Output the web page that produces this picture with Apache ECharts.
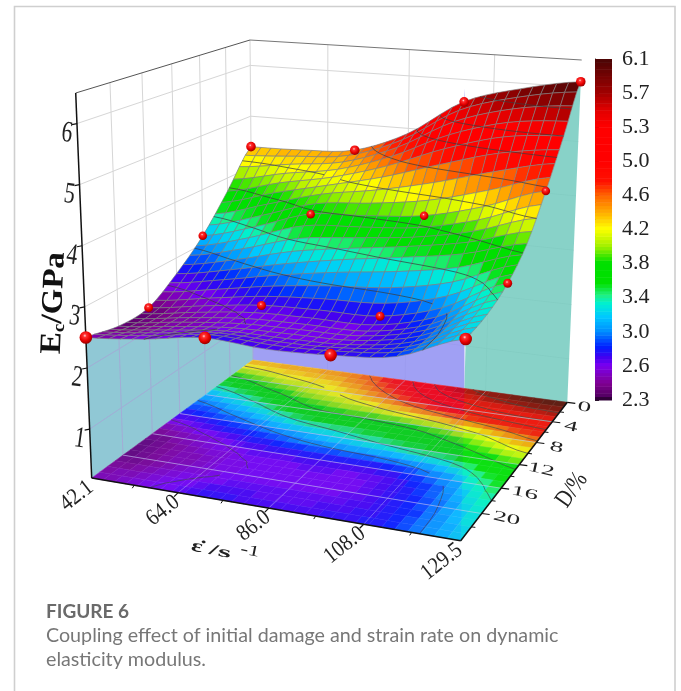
<!DOCTYPE html>
<html><head><meta charset="utf-8">
<style>html,body{margin:0;padding:0;background:#fff}#c{width:681px;height:691px}</style>
<script src="https://cdn.jsdelivr.net/npm/echarts@6/dist/echarts.min.js"></script>
</head><body><div id="c"></div>
<script>
// ---- values ----
const xNodes = [42.1, 56.6, 71, 85.5, 100, 114.75, 129.5];
const dNodes = [0, 4, 8, 12, 16, 20, 24];
const surfaceD0  = [4.40, 4.42, 4.50, 4.90, 5.58, 5.90, 6.10];
const surfaceD4  = [3.75, 4.00, 4.20, 4.50, 4.90, 5.20, 5.30];
const surfaceD8  = [3.15, 3.42, 3.75, 3.82, 3.92, 4.18, 4.55];
const surfaceD12 = [2.72, 2.90, 3.12, 3.30, 3.45, 3.62, 3.90];
const surfaceD16 = [2.40, 2.55, 2.68, 2.72, 2.74, 3.00, 3.52];
const surfaceD20 = [2.38, 2.50, 2.60, 2.62, 2.65, 2.85, 3.32];
const surfaceD24 = [2.50, 2.60, 2.75, 2.70, 2.74, 2.85, 3.25];
const markerX = [42.1,71.5,100.5,129.5, 42.1,71.5,100.5,129.5, 42.1,71.5,100.5,129.5, 42.1,71.5,100.5,129.5];
const markerD = [0,0,0,0, 8,8,8,8, 16,16,16,16, 24,24,24,24];
const markerE = [4.40,4.50,5.58,6.10, 3.15,3.75,3.92,4.55, 2.40,2.68,2.74,3.52, 2.50,2.75,2.74,3.25];
const xTicks = [42.1, 64.0, 86.0, 108.0, 129.5];
const xTickLabels = ['42.1','64.0','86.0','108.0','129.5'];
const xMinorTicks = [53, 75, 97, 118.75];
const dTicks = [0, 4, 8, 12, 16, 20];
const dMinorTicks = [2, 6, 10, 14, 18, 22];
const zTicks = [1, 2, 3, 4, 5, 6];
const colorbarLabels = ['2.3','2.6','3.0','3.4','3.8','4.2','4.6','5.0','5.3','5.7','6.1'];
const colorbarStops = [[0,'#000000'],[0.04,'#2a0030'],[0.1,'#500060'],[0.49,'#800090'],[1.03,'#7a00f0'],[1.27,'#4000f0'],[1.57,'#0020ff'],[2.03,'#0090ff'],[2.45,'#00c8ff'],[2.84,'#00f0d0'],[3.09,'#20f080'],[3.43,'#00e000'],[4.04,'#00e000'],[4.51,'#a0f000'],[5.03,'#ffff00'],[5.49,'#ffb000'],[6.03,'#ff6000'],[6.42,'#ff1000'],[7.03,'#ff0000'],[8.02,'#ff0000'],[8.53,'#e00000'],[9.02,'#a00000'],[10,'#4a0505']];
const X_MIN=42.1, X_MAX=129.5, D_MAX=24, Z_MIN=0.2, Z_MAX=6.5;
const NX=30, ND=24;
// ---- view of the box (screen corners of the 3D frame) ----
const floorQuad=[[253,360],[567.3,402.3],[460.7,540.7],[91.7,478]];
const topQuad=[[250,40],[581.7,60],[471,124],[75.7,93]];
const markerRadiusByRow={0:4.8,8:4.3,16:4.5,24:6.3};
function homography(q){
  const [p0,p1,p2,p3]=q;
  const dx1=p1[0]-p2[0],dx2=p3[0]-p2[0],sx=p0[0]-p1[0]+p2[0]-p3[0];
  const dy1=p1[1]-p2[1],dy2=p3[1]-p2[1],sy=p0[1]-p1[1]+p2[1]-p3[1];
  const det=dx1*dy2-dx2*dy1;
  const g=(sx*dy2-dx2*sy)/det,h=(dx1*sy-sx*dy1)/det;
  const a=p1[0]-p0[0]+g*p1[0],b=p3[0]-p0[0]+h*p3[0],c=p0[0];
  const d=p1[1]-p0[1]+g*p1[1],e=p3[1]-p0[1]+h*p3[1],f=p0[1];
  return (u,v)=>{const w=g*u+h*v+1;return [(a*u+b*v+c)/w,(d*u+e*v+f)/w];};
}
const HF=homography(floorQuad),HT=homography(topQuad);
const U=x=>(x-X_MIN)/(X_MAX-X_MIN), V=d=>d/D_MAX, W=z=>(z-Z_MIN)/(Z_MAX-Z_MIN);
function P(x,d,z){const a=HF(U(x),V(d)),b=HT(U(x),V(d)),w=W(z);return [a[0]+(b[0]-a[0])*w,a[1]+(b[1]-a[1])*w];}
// ---- surface evaluation (smooth spline through the read nodes) ----
const rows=[surfaceD0,surfaceD4,surfaceD8,surfaceD12,surfaceD16,surfaceD20,surfaceD24];
const cr=(a,b,c,d,t)=>0.5*(2*b+(c-a)*t+(2*a-5*b+4*c-d)*t*t+(3*b-a-3*c+d)*t*t*t);
function spl(arr,s){const n=arr.length-1,i=Math.min(n-1,Math.floor(s)),t=s-i;
  return cr(arr[Math.max(0,i-1)],arr[i],arr[i+1],arr[Math.min(n,i+2)],t);}
function E(x,d){const s=U(x)*6,t=V(d)*6;return spl(rows.map(r=>spl(r,s)),t);}
const xs=[],ds=[];
for(let i=0;i<=NX;i++)xs.push(X_MIN+(X_MAX-X_MIN)*i/NX);
for(let j=0;j<=ND;j++)ds.push(D_MAX*j/ND);
const mesh=ds.map(d=>xs.map(x=>E(x,d)));
// ---- colours ----
const hex=h=>[1,3,5].map(k=>parseInt(h.substr(k,2),16));
function colorAtP(p){for(let i=1;i<colorbarStops.length;i++){if(p<=colorbarStops[i][0]){
  const [p0,c0]=colorbarStops[i-1],[p1,c1]=colorbarStops[i],t=(p-p0)/(p1-p0),a=hex(c0),b=hex(c1);
  return `rgb(${a.map((v,k)=>Math.round(v+(b[k]-v)*t)).join(',')})`;}}
  return colorbarStops[colorbarStops.length-1][1];}
const cbValues=colorbarLabels.map(Number);
function eToP(e){if(e<=cbValues[0])return 0;for(let i=1;i<cbValues.length;i++){if(e<=cbValues[i])return i-1+(e-cbValues[i-1])/(cbValues[i]-cbValues[i-1]);}return 10;}
const colorOf=e=>colorAtP(Math.floor(eToP(e)*10)/10+0.05);
// ---- marks ----
const poly=(p,fill,stroke,lw)=>({kind:'poly',p,fill,stroke,lw});
const line=(a,b,stroke,lw)=>({kind:'line',a,b,stroke,lw});
const text=(t,a,o)=>Object.assign({kind:'text',t,a},o);
function contourSegs(zFn,col){
  const out=[];
  cbValues.slice(1,-1).forEach(L=>{
    for(let j=0;j<ND;j++)for(let i=0;i<NX;i++){
      const c=[[i,j],[i+1,j],[i+1,j+1],[i,j+1]];const cross=[];
      for(let k=0;k<4;k++){const [a,b]=[c[k],c[(k+1)%4]];const ea=mesh[a[1]][a[0]],eb=mesh[b[1]][b[0]];
        if((ea-L)*(eb-L)<0){const t=(L-ea)/(eb-ea);
          cross.push(P(xs[a[0]]+(xs[b[0]]-xs[a[0]])*t,ds[a[1]]+(ds[b[1]]-ds[a[1]])*t,zFn(L)));}}
      if(cross.length>=2)out.push(line(cross[0],cross[1],col,0.9));
      if(cross.length===4)out.push(line(cross[2],cross[3],col,0.9));
    }});
  return out;
}
const walls=[];
const wallGrid='#d6d6d6';
walls.push(poly([P(X_MIN,D_MAX,Z_MIN),P(X_MIN,0,Z_MIN),P(X_MIN,0,Z_MAX),P(X_MIN,D_MAX,Z_MAX)],'#fff'));
walls.push(poly([P(X_MIN,0,Z_MIN),P(X_MAX,0,Z_MIN),P(X_MAX,0,Z_MAX),P(X_MIN,0,Z_MAX)],'#fff'));
zTicks.forEach(z=>{walls.push(line(P(X_MIN,D_MAX,z),P(X_MIN,0,z),wallGrid,1));walls.push(line(P(X_MIN,0,z),P(X_MAX,0,z),wallGrid,1));});
dTicks.forEach(d=>walls.push(line(P(X_MIN,d,Z_MIN),P(X_MIN,d,Z_MAX),wallGrid,1)));
xTicks.slice(1,-1).forEach(x=>walls.push(line(P(x,0,Z_MIN),P(x,0,Z_MAX),wallGrid,1)));
walls.push(line(P(X_MIN,D_MAX,Z_MAX),P(X_MIN,0,Z_MAX),'#555',1));
walls.push(line(P(X_MIN,0,Z_MAX),P(X_MAX,0,Z_MAX),'#777',1));
function meet(a,b,c,d){const r=[b[0]-a[0],b[1]-a[1]],s=[d[0]-c[0],d[1]-c[1]];
  const t=((c[0]-a[0])*s[1]-(c[1]-a[1])*s[0])/(r[0]*s[1]-r[1]*s[0]);return [a[0]+r[0]*t,a[1]+r[1]*t];}
const cornerEdge=meet(P(X_MAX,D_MAX,Z_MIN),P(X_MAX,D_MAX,Z_MAX),P(X_MIN,0,Z_MIN),P(X_MAX,0,Z_MIN));
// curtains below the surface edges
const sLeft=[],sBack=[],sRight=[];
ds.forEach(d=>{sLeft.push(P(X_MIN,d,E(X_MIN,d)));sRight.push(P(X_MAX,d,E(X_MAX,d)));});
xs.forEach(x=>{const q=P(x,0,E(x,0));if(q[0]<=cornerEdge[0])sBack.push(q);});
const curtains=[
  poly([P(X_MIN,D_MAX,Z_MIN),P(X_MIN,0,Z_MIN),...sLeft],'rgba(129,192,207,.88)'),
  poly([P(X_MIN,0,Z_MIN),cornerEdge,[cornerEdge[0],cornerEdge[1]-300],...sBack.slice().reverse()],'rgba(147,147,243,.88)'),
  poly([P(X_MAX,D_MAX,Z_MIN),P(X_MAX,0,Z_MIN),...sRight],'rgba(120,204,192,.88)')
];
const gridOnCurtain='rgba(165,170,215,.9)';
dTicks.forEach(d=>curtains.push(line(P(X_MIN,d,Z_MIN),P(X_MIN,d,E(X_MIN,d)),gridOnCurtain,1)));
zTicks.forEach(z=>{let last=null;for(let d=0;d<=D_MAX;d+=0.5){const cur=E(X_MIN,d)>z?P(X_MIN,d,z):null;if(last&&cur)curtains.push(line(last,cur,gridOnCurtain,1));last=cur;}});
// floor map
const floor=[];
for(let j=0;j<ND;j++)for(let i=0;i<NX;i++){
  const e=(mesh[j][i]+mesh[j][i+1]+mesh[j+1][i]+mesh[j+1][i+1])/4,c=colorOf(e);
  floor.push(poly([P(xs[i],ds[j],Z_MIN),P(xs[i+1],ds[j],Z_MIN),P(xs[i+1],ds[j+1],Z_MIN),P(xs[i],ds[j+1],Z_MIN)],c,c,0.5));
}
const floorTop=[];
for(let j=0;j<=ND;j++)floorTop.push(line(P(X_MIN,ds[j],Z_MIN),P(X_MAX,ds[j],Z_MIN),'rgba(255,255,255,.07)',0.6));
for(let i=0;i<=NX;i++)floorTop.push(line(P(xs[i],0,Z_MIN),P(xs[i],D_MAX,Z_MIN),'rgba(255,255,255,.07)',0.6));
floorTop.push(...contourSegs(()=>Z_MIN,'rgba(60,60,60,.75)'));
dTicks.slice(1).forEach(d=>floorTop.push(line(P(X_MIN,d,Z_MIN),P(X_MAX,d,Z_MIN),'rgba(205,205,235,.6)',1)));
xTicks.slice(1,-1).forEach(x=>floorTop.push(line(P(x,0,Z_MIN),P(x,D_MAX,Z_MIN),'rgba(205,205,235,.5)',0.9)));
floorTop.push(poly([P(X_MIN,0,Z_MIN),cornerEdge,P(X_MAX,D_MAX,Z_MIN),P(X_MIN,D_MAX,Z_MIN)],'rgba(110,90,255,.14)'));
floorTop.push(poly([cornerEdge,P(X_MAX,0,Z_MIN),P(X_MAX,D_MAX,Z_MIN)],'rgba(110,230,150,.12)'));
// surface
const surf=[];
for(let j=0;j<ND;j++)for(let i=0;i<NX;i++){
  const e=(mesh[j][i]+mesh[j][i+1]+mesh[j+1][i]+mesh[j+1][i+1])/4;
  surf.push(poly([P(xs[i],ds[j],mesh[j][i]),P(xs[i+1],ds[j],mesh[j][i+1]),P(xs[i+1],ds[j+1],mesh[j+1][i+1]),P(xs[i],ds[j+1],mesh[j+1][i])],colorOf(e),'rgba(128,128,128,.85)',0.75));
}
const surfTop=contourSegs(L=>L,'rgba(60,60,60,.8)');
// axes
const serif='"Liberation Serif","Times New Roman",serif';
const axes=[];
axes.push(line(P(X_MIN,D_MAX,Z_MIN),P(X_MIN,D_MAX,Z_MAX),'#111',1.5));
axes.push(line(P(X_MIN,D_MAX,Z_MIN),P(X_MAX,D_MAX,Z_MIN),'#111',1.5));
axes.push(line(P(X_MAX,D_MAX,Z_MIN),P(X_MAX,0,Z_MIN),'#111',1.5));
zTicks.forEach(z=>{const a=P(X_MIN,D_MAX,z);axes.push(line(a,[a[0]-5,a[1]+1],'#111',1.2));
  axes.push(text(String(z),[a[0]-10,a[1]+10],{font:`18px ${serif}`,sy:1.65,sx:1.2,rot:-0.14,fill:'#222'}));});
xTicks.forEach((x,i)=>{const a=P(x,D_MAX,Z_MIN);if(i>0&&i<4)axes.push(line(a,[a[0]-4,a[1]+4],'#111',1.2));
  axes.push(text(xTickLabels[i],[a[0]-1,a[1]+7],{font:`22px ${serif}`,sy:1.05,sx:.92,rot:0.66,align:'right',fill:'#222'}));});
xMinorTicks.forEach(x=>{const a=P(x,D_MAX,Z_MIN);axes.push(line(a,[a[0]-2,a[1]+3],'#111',1));});
dTicks.forEach(d=>{const a=P(X_MAX,d,Z_MIN);axes.push(line(a,[a[0]+8,a[1]+1],'#111',1.2));
  axes.push(text(String(d),[a[0]+17+0.4*d,a[1]+5],{font:`16px ${serif}`,sx:1.7,sy:.9,rot:-0.22,fill:'#222'}));});
dMinorTicks.forEach(d=>{const a=P(X_MAX,d,Z_MIN);axes.push(line(a,[a[0]+4,a[1]+0.5],'#111',1));});
axes.push(text('D/%',[572,490],{font:`21px ${serif}`,sx:.95,sy:1.2,rot:0.95,fill:'#222'}));
axes.push(text('ε̇',[197,547],{font:`bold 22px ${serif}`,sx:1.2,sy:.8,rot:-0.2,fill:'#222'}));
axes.push(text('/s',[220,552],{font:`bold 24px ${serif}`,sx:1.4,sy:.65,rot:-0.2,fill:'#222'}));
axes.push(text('-1',[250,551],{font:`18px ${serif}`,sx:1.3,sy:.85,rot:-0.2,fill:'#222'}));
axes.push(text('{a|E}{b|c}{a|/GPa}',[54,303],{rot:1.53,sx:1.1,fill:'#111',rich:{a:{font:`bold 30px ${serif}`,fill:'#111'},b:{font:`bold 17px ${serif}`,fill:'#111',verticalAlign:'bottom',padding:[13,0,0,0]}}}));
// markers
const markers=markerX.map((x,i)=>({kind:'ball',a:P(x,markerD[i],markerE[i]),r:markerRadiusByRow[markerD[i]]}));
// colour bar bands
const bands=[];for(let k=0;k<100;k++)bands.push(k);
// ---- rendering through custom series in a pixel-valued frame ----
function draw(m,api){
  if(m.kind==='poly')return{type:'polygon',shape:{points:m.p.map(q=>api.coord(q))},style:{fill:m.fill,stroke:m.stroke||null,lineWidth:m.lw||0}};
  if(m.kind==='line'){const a=api.coord(m.a),b=api.coord(m.b);return{type:'line',shape:{x1:a[0],y1:a[1],x2:b[0],y2:b[1]},style:{stroke:m.stroke,lineWidth:m.lw,fill:null}};}
  if(m.kind==='ball'){const a=api.coord(m.a);return{type:'circle',shape:{cx:a[0],cy:a[1],r:m.r},style:{fill:{type:'radial',x:.42,y:.36,r:.68,colorStops:[{offset:0,color:'#ffd8d8'},{offset:.2,color:'#ff3030'},{offset:.6,color:'#e80000'},{offset:1,color:'#8a0000'}]}}};}
  const a=api.coord(m.a);
  return{type:'text',x:a[0],y:a[1],rotation:m.rot||0,scaleX:m.sx||1,scaleY:m.sy||1,style:{text:m.t,font:m.font,fill:m.fill,align:m.align||'center',verticalAlign:'middle',rich:m.rich}};
}
const layer=(items,z)=>({type:'custom',coordinateSystem:'cartesian2d',xAxisIndex:0,yAxisIndex:0,silent:true,clip:false,progressive:0,z,
  data:items.map((_,i)=>[i]),renderItem:(p,api)=>draw(items[p.dataIndex],api)});
const chart=echarts.init(document.getElementById('c'),null,{renderer:'canvas'});
chart.setOption({animation:false,backgroundColor:'#fff',
  grid:[{left:0,top:0,width:681,height:691,show:false},{left:595,top:59,width:17,height:341,show:false}],
  xAxis:[{type:'value',gridIndex:0,min:0,max:681,show:false},{type:'value',gridIndex:1,min:0,max:1,show:false}],
  yAxis:[{type:'value',gridIndex:0,min:0,max:691,inverse:true,show:false},
    {type:'value',gridIndex:1,min:0,max:10,interval:1,position:'right',splitLine:{show:false},
     axisLine:{show:true,lineStyle:{color:'#222',width:1}},axisTick:{show:true,length:4,lineStyle:{color:'#222'}},
     axisLabel:{show:false}}],
  graphic:[
    {type:'polyline',shape:{points:[[14.5,691],[14.5,6.5],[675,6.5],[675,691]]},style:{stroke:'#cfcfcf',lineWidth:1.6,fill:null},silent:true},
    {type:'text',x:46,y:612,style:{text:'FIGURE 6',font:'bold 19px Lato',fill:'#6a6a6a',verticalAlign:'middle'},silent:true},
    {type:'text',x:46,y:636,style:{text:'Coupling effect of initial damage and strain rate on dynamic',font:'19.7px Lato',fill:'#777',verticalAlign:'middle'},silent:true},
    {type:'text',x:46,y:660,style:{text:'elasticity modulus.',font:'19.7px Lato',fill:'#777',verticalAlign:'middle'},silent:true}
  ],
  series:[layer(walls,1),layer(curtains,2),layer(floor,3),layer(floorTop,4),layer(surf,5),layer(surfTop,6),layer(axes,7),layer(markers,8),
    {type:'custom',coordinateSystem:'cartesian2d',xAxisIndex:1,yAxisIndex:1,silent:true,clip:false,progressive:0,z:3,
     data:bands.map(k=>[k]),renderItem:(p,api)=>{const k=bands[p.dataIndex];const a=api.coord([0,(k+1)/10]),b=api.coord([1,k/10]);
       return{type:'rect',shape:{x:a[0],y:a[1],width:b[0]-a[0],height:b[1]-a[1]+0.5},style:{fill:colorAtP((k+.5)/10)}};}},
    {type:'custom',coordinateSystem:'cartesian2d',xAxisIndex:1,yAxisIndex:1,silent:true,clip:false,progressive:0,z:9,
     data:colorbarLabels.map((_,k)=>[k]),renderItem:(p,api)=>{const a=api.coord([1,p.dataIndex]);
       return{type:'text',x:a[0]+10,y:a[1],style:{text:colorbarLabels[p.dataIndex],font:`22px ${serif}`,fill:'#222',align:'left',verticalAlign:'middle'}};}}
  ]});
</script></body></html>
